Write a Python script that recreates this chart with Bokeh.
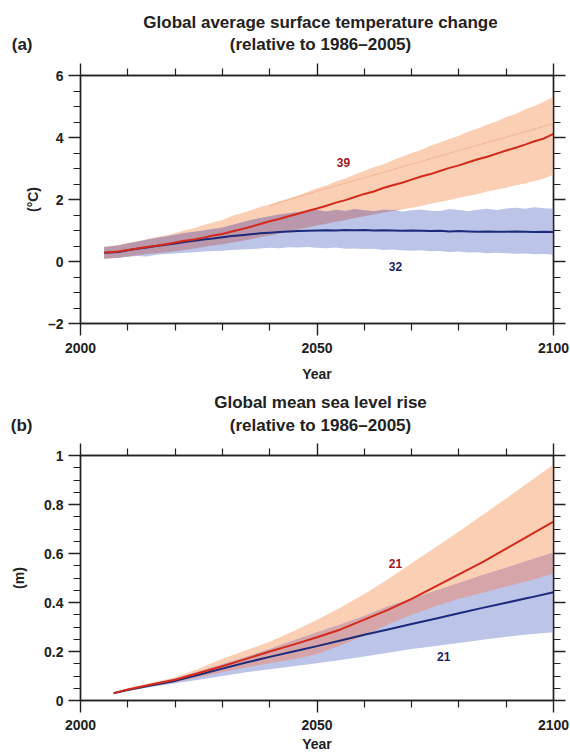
import numpy as np
from bokeh.plotting import figure
from bokeh.models import Range1d, FixedTicker, LinearAxis, Label
from bokeh.layouts import column
from bokeh.embed import file_html
from bokeh.resources import INLINE

FONT = "Liberation Sans"

# ---------------- Panel (a): temperature ----------------
years_t = [2005, 2008, 2010, 2012, 2014, 2016, 2018, 2020, 2022, 2024, 2026, 2028,
           2030, 2032, 2034, 2036, 2038, 2040, 2042, 2044, 2046, 2048, 2050, 2052,
           2054, 2056, 2058, 2060, 2062, 2064, 2066, 2068, 2070, 2072, 2074, 2076,
           2078, 2080, 2082, 2084, 2086, 2088, 2090, 2092, 2094, 2096, 2098, 2100]

rcp85_mean = [0.28, 0.32, 0.37, 0.42, 0.47, 0.51, 0.56, 0.61, 0.67, 0.71, 0.77, 0.84,
              0.89, 0.97, 1.04, 1.12, 1.21, 1.30, 1.37, 1.46, 1.54, 1.63, 1.71, 1.80,
              1.90, 1.98, 2.08, 2.18, 2.26, 2.37, 2.46, 2.54, 2.64, 2.74, 2.82, 2.92,
              3.02, 3.10, 3.20, 3.30, 3.38, 3.48, 3.58, 3.67, 3.77, 3.88, 3.97, 4.12]
rcp85_hi = [0.48, 0.53, 0.60, 0.65, 0.72, 0.79, 0.84, 0.92, 1.00, 1.07, 1.18, 1.26,
            1.34, 1.47, 1.56, 1.65, 1.76, 1.84, 1.94, 2.03, 2.13, 2.24, 2.36, 2.45,
            2.58, 2.68, 2.81, 2.92, 3.04, 3.13, 3.27, 3.38, 3.50, 3.60, 3.73, 3.84,
            3.95, 4.06, 4.19, 4.29, 4.42, 4.52, 4.66, 4.76, 4.90, 5.02, 5.15, 5.32]
rcp85_lo = [0.08, 0.12, 0.16, 0.20, 0.24, 0.27, 0.30, 0.33, 0.37, 0.42, 0.47, 0.52,
            0.56, 0.61, 0.66, 0.72, 0.78, 0.84, 0.90, 0.96, 1.04, 1.10, 1.16, 1.22,
            1.28, 1.34, 1.40, 1.46, 1.52, 1.58, 1.63, 1.68, 1.73, 1.79, 1.86, 1.92,
            1.98, 2.06, 2.12, 2.18, 2.26, 2.32, 2.38, 2.46, 2.52, 2.60, 2.68, 2.80]
rcp26_mean = [0.28, 0.31, 0.36, 0.41, 0.45, 0.50, 0.54, 0.58, 0.63, 0.67, 0.71, 0.74,
              0.78, 0.82, 0.85, 0.88, 0.91, 0.93, 0.95, 0.97, 0.98, 0.99, 1.00, 1.01,
              1.00, 1.02, 1.01, 1.02, 1.00, 1.01, 1.00, 0.99, 1.00, 0.99, 0.98, 0.99,
              0.97, 0.98, 0.97, 0.96, 0.97, 0.96, 0.96, 0.97, 0.96, 0.95, 0.96, 0.95]
rcp26_hi = [0.46, 0.52, 0.58, 0.64, 0.70, 0.76, 0.81, 0.86, 0.92, 0.96, 1.00, 1.05,
            1.10, 1.18, 1.26, 1.34, 1.40, 1.46, 1.52, 1.56, 1.60, 1.64, 1.66, 1.61,
            1.67, 1.63, 1.69, 1.65, 1.62, 1.67, 1.66, 1.61, 1.65, 1.68, 1.64, 1.63,
            1.69, 1.66, 1.62, 1.67, 1.70, 1.66, 1.71, 1.73, 1.70, 1.75, 1.72, 1.70]
rcp26_lo = [0.10, 0.12, 0.15, 0.18, 0.16, 0.22, 0.24, 0.26, 0.28, 0.30, 0.32, 0.34,
            0.35, 0.37, 0.39, 0.40, 0.42, 0.44, 0.43, 0.46, 0.45, 0.47, 0.44, 0.43,
            0.45, 0.41, 0.42, 0.40, 0.41, 0.37, 0.39, 0.36, 0.35, 0.36, 0.33, 0.34,
            0.31, 0.32, 0.29, 0.30, 0.27, 0.28, 0.27, 0.25, 0.26, 0.23, 0.24, 0.22]
faint_years = [2040, 2050, 2060, 2070, 2080, 2090, 2100]
faint_vals = [1.80, 2.27, 2.70, 3.14, 3.58, 4.01, 4.45]

# ---------------- Panel (b): sea level ----------------
years_s = [2007, 2010, 2015, 2020, 2025, 2030, 2035, 2040, 2045, 2050,
           2055, 2060, 2065, 2070, 2075, 2080, 2085, 2090, 2095, 2100]
sl85_mean = [0.03, 0.045, 0.065, 0.085, 0.112, 0.14, 0.17, 0.20, 0.228, 0.258,
             0.29, 0.33, 0.37, 0.415, 0.465, 0.515, 0.565, 0.62, 0.675, 0.73]
sl85_hi = [0.03, 0.05, 0.072, 0.095, 0.13, 0.17, 0.205, 0.24, 0.283, 0.33,
           0.38, 0.435, 0.495, 0.56, 0.625, 0.69, 0.757, 0.825, 0.894, 0.963]
sl85_lo = [0.03, 0.042, 0.058, 0.075, 0.095, 0.115, 0.135, 0.152, 0.168, 0.19,
           0.225, 0.265, 0.31, 0.35, 0.385, 0.415, 0.44, 0.465, 0.49, 0.518]
sl26_mean = [0.03, 0.043, 0.062, 0.08, 0.105, 0.13, 0.155, 0.178, 0.20, 0.222,
             0.245, 0.268, 0.29, 0.312, 0.334, 0.356, 0.378, 0.399, 0.42, 0.442]
sl26_hi = [0.03, 0.047, 0.068, 0.09, 0.118, 0.148, 0.178, 0.21, 0.245, 0.279,
           0.31, 0.345, 0.385, 0.415, 0.448, 0.48, 0.512, 0.542, 0.573, 0.604]
sl26_lo = [0.03, 0.04, 0.055, 0.07, 0.085, 0.10, 0.115, 0.128, 0.14, 0.152,
           0.165, 0.18, 0.195, 0.21, 0.222, 0.235, 0.248, 0.26, 0.27, 0.279]

x_major = [2000, 2050, 2100]
x_minor = [2010, 2020, 2030, 2040, 2060, 2070, 2080, 2090]
ya_major = [-2, 0, 2, 4, 6]
ya_minor = [-1.5, -1, -0.5, 0.5, 1, 1.5, 2.5, 3, 3.5, 4.5, 5, 5.5]
yb_major = [0, 0.2, 0.4, 0.6, 0.8, 1]
yb_minor = [0.05, 0.1, 0.15, 0.25, 0.3, 0.35, 0.45, 0.5, 0.55, 0.65, 0.7, 0.75, 0.85, 0.9, 0.95]

title_a = ["Global average surface temperature change", "(relative to 1986\u20132005)"]
title_b = ["Global mean sea level rise", "(relative to 1986\u20132005)"]

ORANGE = "#fbcfb3"
BLUEBAND = "#bcc4e7"
RED = "#d42a1c"
NAVY = "#1b2a7a"
INK = "#222222"


def style_axis(ax, ticks, minor, labels=True, standoff=6):
    ax.ticker = FixedTicker(ticks=ticks, minor_ticks=minor)
    ax.axis_line_color = INK
    ax.axis_line_width = 1.4
    ax.major_tick_line_color = INK
    ax.major_tick_line_width = 1.4
    ax.minor_tick_line_color = INK
    ax.minor_tick_line_width = 1.2
    ax.major_tick_in = 0
    ax.major_tick_out = 12
    ax.minor_tick_in = 0
    ax.minor_tick_out = 7
    ax.major_label_text_font = FONT
    ax.major_label_text_font_style = "bold"
    ax.major_label_standoff = standoff
    ax.axis_label_text_font = FONT
    ax.axis_label_text_font_style = "bold"
    ax.axis_label_text_font_size = "14px"
    ax.axis_label_text_color = INK
    if labels:
        ax.major_label_text_font_size = "14px"
        ax.major_label_text_color = INK
    else:
        ax.major_label_text_font_size = "0px"
        ax.major_label_text_color = None


def make_panel(height, top, bottom, yr, ymaj, ymin, overrides, ylabel, ylab_standoff, xlab_standoff):
    p = figure(width=570, height=height, output_backend="svg", toolbar_location=None,
               x_range=Range1d(2000, 2100), y_range=Range1d(*yr),
               min_border_left=80, min_border_right=17,
               min_border_top=top, min_border_bottom=bottom)
    p.xgrid.visible = False
    p.ygrid.visible = False
    p.outline_line_color = INK
    p.outline_line_width = 1.4
    p.background_fill_color = "white"
    p.border_fill_color = "white"
    style_axis(p.xaxis[0], x_major, x_minor, True, 7)
    style_axis(p.yaxis[0], ymaj, ymin, True, 5)
    p.yaxis[0].major_label_overrides = overrides
    p.xaxis[0].axis_label = "Year"
    p.xaxis[0].axis_label_standoff = xlab_standoff
    p.yaxis[0].axis_label = ylabel
    p.yaxis[0].axis_label_standoff = ylab_standoff
    top_ax = LinearAxis()
    style_axis(top_ax, x_major, x_minor, False)
    p.add_layout(top_ax, "above")
    right_ax = LinearAxis()
    style_axis(right_ax, ymaj, ymin, False)
    p.add_layout(right_ax, "right")
    return p


def make_header(height, lines, tag, y1, y2):
    # frame is aligned with the panels below (x 80..553), so data units == page pixels
    h = figure(width=570, height=height, output_backend="svg", toolbar_location=None,
               x_range=Range1d(80, 553), y_range=Range1d(height, 0),
               x_axis_type=None, y_axis_type=None,
               min_border_left=80, min_border_right=17, min_border_top=0, min_border_bottom=0)
    h.outline_line_color = None
    h.background_fill_color = "white"
    h.border_fill_color = "white"
    for txt, yy in zip(lines, [y1, y2]):
        h.add_layout(Label(x=320, y=yy, text=txt, text_font=FONT, text_font_size="17px",
                           text_font_style="bold", text_color=INK,
                           text_align="center", text_baseline="middle"))
    # panel tag "(a)"/"(b)" drawn as the single label of a bare left axis
    tag_ax = LinearAxis(ticker=FixedTicker(ticks=[y2], minor_ticks=[]),
                        major_label_overrides={y2: tag},
                        axis_line_color=None, major_tick_line_color=None,
                        minor_tick_line_color=None, major_tick_out=0, major_tick_in=0,
                        major_label_standoff=48, major_label_text_font=FONT,
                        major_label_text_font_size="17px", major_label_text_font_style="bold",
                        major_label_text_color=INK)
    h.add_layout(tag_ax, "left")
    return h


def data_label(p, x, y, text, color):
    p.add_layout(Label(x=x, y=y, text=text, text_font=FONT, text_font_size="12px",
                       text_font_style="bold", text_color=color,
                       text_align="center", text_baseline="middle"))


# ---- header a + panel a ----
ha = make_header(60, title_a, "(a)", 22, 44)
pa = make_panel(330, 15, 67, (-2, 6), ya_major, ya_minor, {-2: "\u20132"}, "(\u00b0C)", 4, 10)

ta = np.array(years_t, dtype=float)
r_lo, r_hi = np.array(rcp85_lo), np.array(rcp85_hi)
b_lo, b_hi = np.array(rcp26_lo), np.array(rcp26_hi)
ov_lo = np.maximum(r_lo, b_lo)
ov_hi = np.maximum(np.minimum(r_hi, b_hi), ov_lo)

pa.varea(x=ta, y1=r_lo, y2=r_hi, fill_color=ORANGE)
pa.varea(x=ta, y1=b_lo, y2=b_hi, fill_color=BLUEBAND)
pa.varea(x=ta, y1=ov_lo, y2=ov_hi, fill_color="#bb97ab")
pa.line(faint_years, faint_vals, line_color="#f2b597", line_width=1)
pa.line(ta, rcp26_mean, line_color=NAVY, line_width=2)
pa.line(ta, rcp85_mean, line_color=RED, line_width=2)
data_label(pa, 2055.6, 3.2, "39", "#a3171c")
data_label(pa, 2066.6, -0.15, "32", "#1c2466")

# ---- header b + panel b ----
hb = make_header(50, title_b, "(b)", 12, 35)
pb = make_panel(315, 15, 55, (0, 1), yb_major, yb_minor,
                {0: "0", 0.2: "0.2", 0.4: "0.4", 0.6: "0.6", 0.8: "0.8", 1: "1"}, "(m)", 14, 3)

ts = np.array(years_s, dtype=float)
s_rlo, s_rhi = np.array(sl85_lo), np.array(sl85_hi)
s_blo, s_bhi = np.array(sl26_lo), np.array(sl26_hi)
s_ovlo = np.maximum(s_rlo, s_blo)
s_ovhi = np.maximum(np.minimum(s_rhi, s_bhi), s_ovlo)

pb.varea(x=ts, y1=s_rlo, y2=s_rhi, fill_color=ORANGE)
pb.varea(x=ts, y1=s_blo, y2=s_bhi, fill_color=BLUEBAND)
pb.varea(x=ts, y1=s_ovlo, y2=s_ovhi, fill_color="#d6a5a9")
pb.line(ts, sl26_mean, line_color=NAVY, line_width=2)
pb.line(ts, sl85_mean, line_color=RED, line_width=2)
data_label(pb, 2066.6, 0.56, "21", "#a3171c")
data_label(pb, 2076.8, 0.18, "21", "#1c2466")

layout = column(ha, pa, hb, pb, spacing=0)
open("out.html", "w").write(file_html(layout, INLINE))
